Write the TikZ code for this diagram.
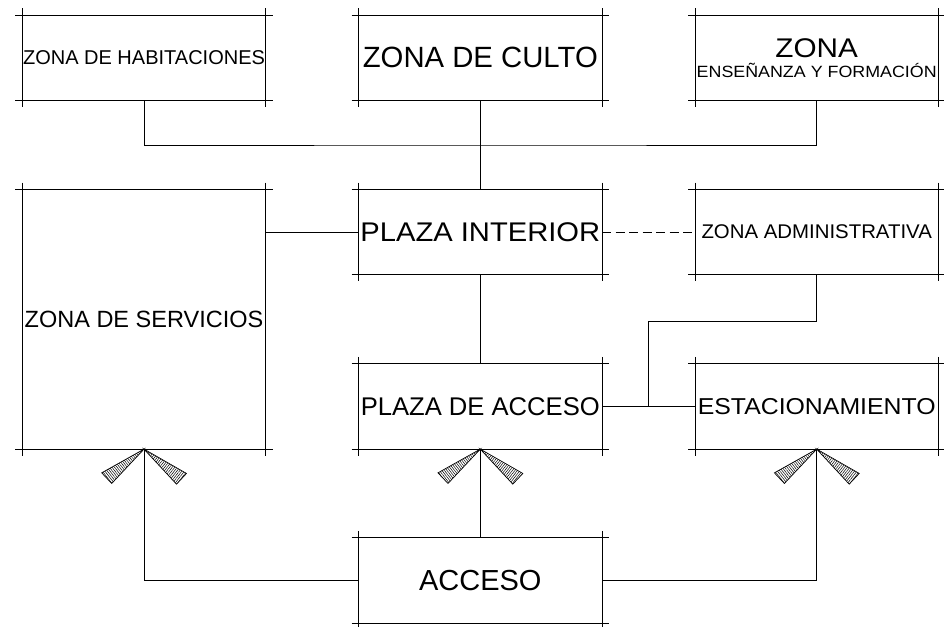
\documentclass[tikz,border=0pt]{standalone}
\usepackage{fontspec}
\setmainfont{Liberation Sans}
\usepackage{graphicx}
\usetikzlibrary{patterns.meta,calc}
\newcommand\hx[2]{\scalebox{#1}[1]{#2}}
\newcommand\fs[1]{\fontsize{#1}{20}\selectfont}
\tikzset{
  cadbox/.style={draw=none, inner sep=0pt, minimum width=242.5pt, minimum height=84pt, align=center,
    font={\lineskiplimit=-100pt\fontsize{20}{20}\selectfont}},
  conn/.style={line width=0.9pt},
  wedge/.style={line width=0.7pt},
}
\begin{document}
\begin{tikzpicture}[x=1pt,y=1pt,line width=0.9pt]
\useasboundingbox (0,0) rectangle (944,626);
% boxes
\node[cadbox] (hab) at (144,568.3) {\fs{20}ZONA DE HABITACIONES};
\node[cadbox] (cul) at (480.3,568.3) {\fs{29.3}ZONA DE CULTO};
\node[cadbox] (ens) at (816.7,568.3) {{\fs{27}\hx{1.1}{ZONA}}\\{\fs{16.3}\hx{1.095}{ENSEÑANZA Y FORMACIÓN}}};
\node[cadbox, minimum height=258.7pt] (ser) at (144,306.65) {\fs{23.5}ZONA DE SERVICIOS};
\node[cadbox] (pin) at (480.3,394) {\fs{27}\hx{1.08}{PLAZA INTERIOR}};
\node[cadbox] (adm) at (816.7,394) {\fs{19.8}\hx{1.03}{ZONA ADMINISTRATIVA}};
\node[cadbox, minimum height=84.4pt] (pac) at (480.3,219.5) {\fs{25.6}PLAZA DE ACCESO};
\node[cadbox, minimum height=84.4pt] (est) at (816.7,219.5) {\fs{23}\hx{1.08}{ESTACIONAMIENTO}};
\node[cadbox, minimum height=84.7pt] (acc) at (480.3,45.3) {\fs{29}ACCESO};
% box outlines with extended corner lines
\foreach \n in {hab,cul,ens,ser,pin,adm,pac,est,acc} {
  \draw ([xshift=-7pt]\n.north west) -- ([xshift=7pt]\n.north east);
  \draw ([xshift=-7pt]\n.south west) -- ([xshift=7pt]\n.south east);
  \draw ([yshift=7pt]\n.north west) -- ([yshift=-7pt]\n.south west);
  \draw ([yshift=7pt]\n.north east) -- ([yshift=-7pt]\n.south east);
}
% connectors
\coordinate (jt) at (480.3,481);
\draw[conn] (hab.south) |- (jt) -| (ens.south);
\draw[conn] (cul.south) -- (pin.north);
\draw[conn] (pin.west) -- (pin.west -| ser.east);
\draw[conn, dash pattern=on 9pt off 4.5pt] (pin.east) -- (adm.west);
\draw[conn] (pin.south) -- (pac.north);
\draw[conn] (pac.east) -- (est.west);
\coordinate (k1) at (648.3,304.7);
\draw[conn] (adm.south) |- (k1) -- (k1 |- pac.east);
\draw[conn] (acc.west) -| (ser.south);
\draw[conn] (acc.north) -- (pac.south);
\draw[conn] (acc.east) -| (est.south);
% hatched entrance wedges
\foreach \n in {ser,pac,est} {
  \draw[wedge, pattern={Lines[angle=128,distance=2pt,line width=0.5pt]}]
    (\n.south) -- ++(-42.3,-23.7) -- ++(10,-10.6) -- cycle;
  \draw[wedge, pattern={Lines[angle=52,distance=2pt,line width=0.5pt]}]
    (\n.south) -- ++(42.5,-24.3) -- ++(-10,-10.7) -- cycle;
}
\end{tikzpicture}
\end{document}
